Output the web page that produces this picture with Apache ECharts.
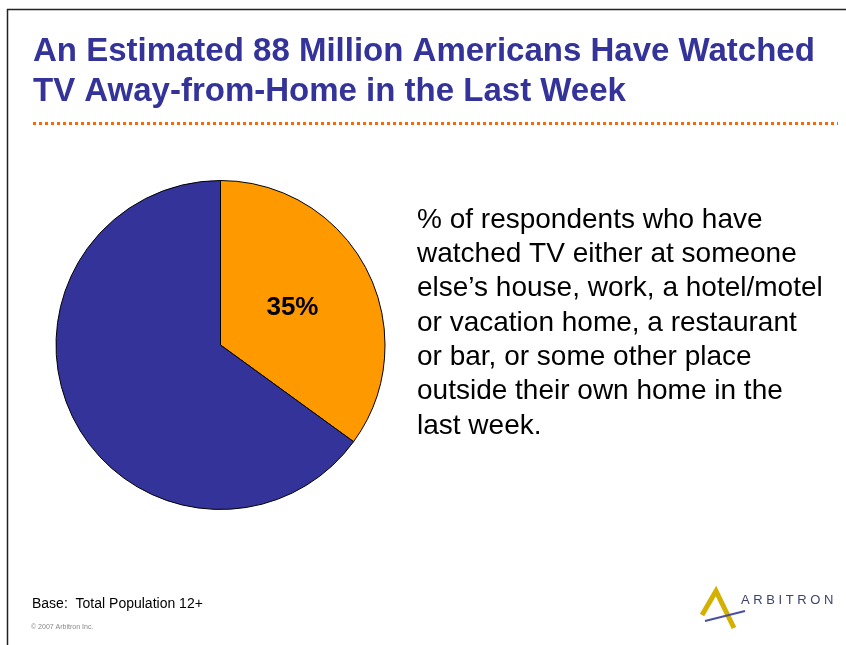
<!DOCTYPE html>
<html>
<head>
<meta charset="utf-8">
<script src="https://cdn.jsdelivr.net/npm/echarts@6/dist/echarts.min.js"></script>
<style>
  html, body { margin: 0; padding: 0; background: #fff; }
  #chart { width: 846px; height: 645px; }
</style>
</head>
<body>
<div id="chart"></div>
<script>
// data
var sliceNames = ["Watched TV away from home", "Did not"];
var sliceValues = [35, 65];
var sliceColors = ["#FF9900", "#333399"];
var titleLines = [
  "An Estimated 88 Million Americans Have Watched",
  "TV Away-from-Home in the Last Week"
];
var noteLines = [
  "% of respondents who have",
  "watched TV either at someone",
  "else\u2019s house, work, a hotel/motel",
  "or vacation home, a restaurant",
  "or bar, or some other place",
  "outside their own home in the",
  "last week."
];

var FONT = "Liberation Sans, Arial, sans-serif";

var chart = echarts.init(document.getElementById("chart"));

var pieData = sliceNames.map(function (n, i) {
  return {
    name: n,
    value: sliceValues[i],
    itemStyle: { color: sliceColors[i] },
    label: { show: i === 0 }
  };
});

chart.setOption({
  animation: false,
  backgroundColor: "#fff",
  graphic: [
    // slide frame
    { type: "line", shape: { x1: 7.5, y1: 9, x2: 7.5, y2: 645 }, style: { stroke: "#222", lineWidth: 1.5 } },
    { type: "line", shape: { x1: 7, y1: 9.5, x2: 846, y2: 9.5 }, style: { stroke: "#222", lineWidth: 1.5 } },
    // title
    {
      type: "text", left: 33, top: 32,
      style: {
        text: titleLines.join("\n"),
        fontFamily: FONT, fontSize: 33, fontWeight: "bold",
        fill: "#333399",
        lineHeight: 40
      }
    },
    // dotted rule
    {
      type: "line", shape: { x1: 33, y1: 123.5, x2: 838, y2: 123.5 },
      style: { stroke: "#FF6600", lineWidth: 3, lineDash: [3, 3] }
    },
    // right side note
    {
      type: "text", left: 417, top: 203,
      style: {
        text: noteLines.join("\n"),
        fontFamily: FONT, fontSize: 28,
        fill: "#000",
        lineHeight: 34.3
      }
    },
    // footer
    {
      type: "text", left: 32, top: 597,
      style: { text: "Base:  Total Population 12+", fontFamily: FONT, fontSize: 14, fill: "#000" }
    },
    {
      type: "text", left: 31, top: 624,
      style: { text: "\u00a9 2007 Arbitron Inc.", fontFamily: FONT, fontSize: 7, fill: "#888" }
    },
    // logo
    {
      type: "polyline",
      shape: { points: [[702, 615], [716, 591], [734, 628]] },
      style: { stroke: "#D4B000", lineWidth: 5, fill: null, lineJoin: "miter" }
    },
    {
      type: "line", shape: { x1: 705, y1: 621, x2: 745, y2: 611 },
      style: { stroke: "#4A4FA0", lineWidth: 2 }
    },
    {
      type: "text", left: 741, top: 594,
      style: {
        text: "A R B I T R O N",
        fontFamily: FONT, fontSize: 13,
        fill: "#3E4270"
      }
    }
  ],
  series: [
    {
      type: "pie",
      center: [220.5, 345],
      radius: [0, 164.5],
      startAngle: 90,
      clockwise: true,
      silent: true,
      itemStyle: { borderColor: "#000", borderWidth: 1 },
      label: {
        position: "inside",
        formatter: "{c}%",
        color: "#000",
        fontSize: 26,
        fontWeight: "bold",
        fontFamily: FONT,
        offset: [-4, 2]
      },
      labelLine: { show: false },
      emphasis: { disabled: true },
      data: pieData
    }
  ]
});
</script>
</body>
</html>
